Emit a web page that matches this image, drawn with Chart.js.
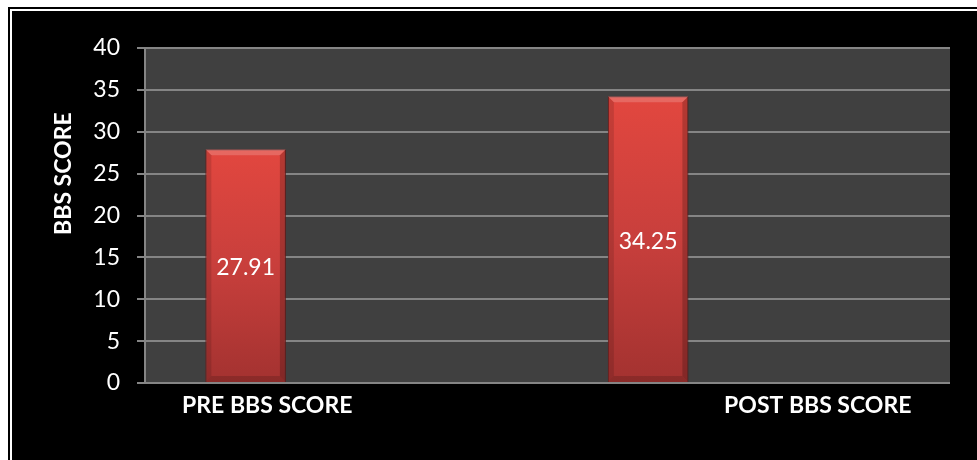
<!DOCTYPE html>
<html>
<head>
<meta charset="utf-8">
<script src="https://cdn.jsdelivr.net/npm/chart.js@4.4.1/dist/chart.umd.min.js"></script>
<style>
  html, body { margin: 0; padding: 0; background: #fff; width: 977px; height: 460px; overflow: hidden; }
  .frame { position: absolute; left: 8px; top: 7px; right: 0; bottom: 0; border-left: 2px solid #000; border-top: 2px solid #000; }
  #bbsChart { position: absolute; left: 12px; top: 11px; background: #000; }
</style>
</head>
<body>
<div class="frame"></div>
<canvas id="bbsChart" width="965" height="449"></canvas>
<script>
// BBS score before and after
const categories = ['PRE BBS SCORE', 'POST BBS SCORE'];
const scores = [27.91, 34.25];
const emptySeries = [null, null];
const yTicks = [0, 5, 10, 15, 20, 25, 30, 35, 40];
const yTitle = 'BBS SCORE';

const gridColor = '#858585';
const labelFont = 'Lato, "Open Sans", sans-serif';

// red bar, lighter at the top, darker at the base
function barGradient(ctx) {
  const chart = ctx.chart;
  if (!chart.chartArea || ctx.raw == null) return '#c63f3b';
  const yScale = chart.scales.y;
  const top = yScale.getPixelForValue(ctx.raw);
  const bottom = yScale.getPixelForValue(0);
  const g = chart.ctx.createLinearGradient(0, top, 0, bottom);
  g.addColorStop(0, '#e2473f');
  g.addColorStop(0.5, '#c83f3c');
  g.addColorStop(1, '#a33230');
  return g;
}

// dark grey plot area
const plotBackground = {
  id: 'plotBackground',
  beforeDraw(chart) {
    const { ctx, chartArea: a } = chart;
    ctx.save();
    ctx.fillStyle = '#404040';
    ctx.fillRect(a.left, a.top, a.right - a.left, a.bottom - a.top);
    ctx.restore();
  }
};

// bevel edges and value labels on the bars
const barDecor = {
  id: 'barDecor',
  afterDatasetsDraw(chart) {
    const { ctx } = chart;
    const meta = chart.getDatasetMeta(0);
    meta.data.forEach((bar, i) => {
      const { x, y, base, width } = bar.getProps(['x', 'y', 'base', 'width'], true);
      const l = x - width / 2, r = x + width / 2, b = 6;
      ctx.save();
      // top bevel
      ctx.fillStyle = 'rgba(255,255,255,0.18)';
      ctx.beginPath();
      ctx.moveTo(l, y); ctx.lineTo(r, y); ctx.lineTo(r - b, y + b); ctx.lineTo(l + b, y + b);
      ctx.closePath(); ctx.fill();
      // side bevels
      ctx.fillStyle = 'rgba(0,0,0,0.12)';
      ctx.beginPath();
      ctx.moveTo(l, y); ctx.lineTo(l + b, y + b); ctx.lineTo(l + b, base - b); ctx.lineTo(l, base);
      ctx.closePath(); ctx.fill();
      ctx.fillStyle = 'rgba(0,0,0,0.2)';
      ctx.beginPath();
      ctx.moveTo(r, y); ctx.lineTo(r - b, y + b); ctx.lineTo(r - b, base - b); ctx.lineTo(r, base);
      ctx.closePath(); ctx.fill();
      // bottom bevel
      ctx.fillStyle = 'rgba(0,0,0,0.15)';
      ctx.beginPath();
      ctx.moveTo(l, base); ctx.lineTo(r, base); ctx.lineTo(r - b, base - b); ctx.lineTo(l + b, base - b);
      ctx.closePath(); ctx.fill();
      // value
      ctx.fillStyle = '#ffffff';
      ctx.font = '23px ' + labelFont;
      ctx.textAlign = 'center';
      ctx.textBaseline = 'middle';
      ctx.fillText(scores[i].toFixed(2), x, (y + base) / 2 + 2);
      ctx.restore();
    });
  }
};

// category names under the plot and the rotated y title
const axisText = {
  id: 'axisText',
  afterDraw(chart) {
    const { ctx, chartArea: a, scales } = chart;
    const shift = [-79, 69];
    ctx.save();
    ctx.fillStyle = '#ffffff';
    ctx.font = 'bold 23px ' + labelFont;
    ctx.textAlign = 'center';
    ctx.textBaseline = 'middle';
    categories.forEach((name, i) => {
      ctx.fillText(name, scales.x.getPixelForValue(i) + shift[i], a.bottom + 23);
    });
    ctx.translate(52, a.top + (a.bottom - a.top) * 0.375);
    ctx.rotate(-Math.PI / 2);
    ctx.fillText(yTitle, 0, 0);
    ctx.restore();
  }
};

new Chart(document.getElementById('bbsChart'), {
  type: 'bar',
  data: {
    labels: categories,
    datasets: [
      {
        label: yTitle,
        data: scores,
        backgroundColor: barGradient,
        borderColor: '#7c2220',
        borderWidth: 1,
        categoryPercentage: 1,
        barPercentage: 0.4
      },
      {
        label: '',
        data: emptySeries,
        categoryPercentage: 1,
        barPercentage: 0.4
      }
    ]
  },
  options: {
    responsive: false,
    animation: false,
    devicePixelRatio: 1,
    layout: { padding: { top: 37, right: 27, left: 0, bottom: 0 } },
    plugins: {
      legend: { display: false },
      tooltip: { enabled: false }
    },
    scales: {
      x: {
        grid: { display: false },
        border: { display: false },
        ticks: { display: false },
        afterFit(scale) { scale.height = 77; }
      },
      y: {
        min: 0,
        max: 40,
        afterBuildTicks(scale) { scale.ticks = yTicks.map(v => ({ value: v })); },
        afterFit(scale) { scale.width = 133; },
        grid: { color: gridColor, lineWidth: 2, tickLength: 8 },
        border: { color: gridColor, width: 2 },
        ticks: {
          color: '#ffffff',
          padding: 17,
          font: { family: labelFont, size: 23 }
        }
      }
    }
  },
  plugins: [plotBackground, barDecor, axisText]
});
</script>
</body>
</html>
